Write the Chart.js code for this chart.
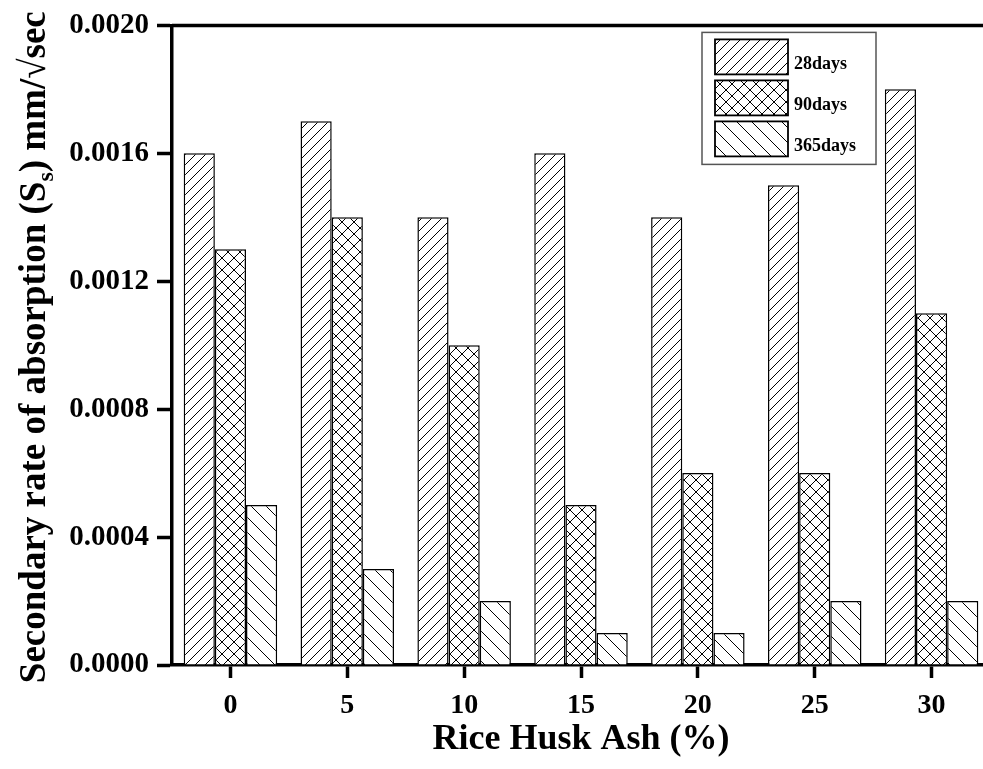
<!DOCTYPE html>
<html lang="en">
<head>
    <meta charset="UTF-8">
    <title>Secondary rate of absorption</title>
    <script src="https://cdn.jsdelivr.net/npm/chart.js"></script>
    <style>
        html, body { margin: 0; padding: 0; background: #fff; overflow: hidden; }
        #wrap { width: 1000px; height: 769px; }
    </style>
</head>
<body>
    <div id="wrap"><canvas id="absChart"></canvas></div>
    <script>
        // Rice husk ash content (%) and secondary absorption rate (mm/√sec)
        const categories = ['0', '5', '10', '15', '20', '25', '30'];
        const days28 = [0.0016, 0.0017, 0.0014, 0.0016, 0.0014, 0.0015, 0.0018];
        const days90 = [0.0013, 0.0014, 0.0010, 0.0005, 0.0006, 0.0006, 0.0011];
        const days365 = [0.0005, 0.0003, 0.0002, 0.0001, 0.0001, 0.0002, 0.0002];
        const yTicks = [0, 0.0004, 0.0008, 0.0012, 0.0016, 0.0020];
        const seriesNames = ['28days', '90days', '365days'];

        const FONT = '"Liberation Serif", "Times New Roman", serif';

        // small repeating tiles for the hatch fills
        function hatch(kind, size) {
            const c = document.createElement('canvas');
            c.width = c.height = size;
            const g = c.getContext('2d');
            g.fillStyle = '#fff';
            g.fillRect(0, 0, size, size);
            g.strokeStyle = '#000';
            g.lineWidth = 1;
            g.beginPath();
            for (const k of [-size, 0, size]) {
                if (kind === '/' || kind === 'x') {
                    g.moveTo(k, size);
                    g.lineTo(k + size, 0);
                }
                if (kind === '\\' || kind === 'x') {
                    g.moveTo(k, 0);
                    g.lineTo(k + size, size);
                }
            }
            g.stroke();
            return g.createPattern(c, 'repeat');
        }

        const fills = [hatch('/', 10), hatch('x', 12), hatch('\\', 15)];

        // axis titles (the y one has a subscript) and the legend
        const decorations = {
            id: 'decorations',
            afterDraw(chart) {
                const ctx = chart.ctx;
                const a = chart.chartArea;
                ctx.save();

                // frame top and right
                ctx.strokeStyle = '#000';
                ctx.lineWidth = 3.5;
                ctx.beginPath();
                ctx.moveTo(a.left, a.top);
                ctx.lineTo(a.right, a.top);
                ctx.lineTo(a.right, a.bottom);
                ctx.stroke();

                // x title
                ctx.fillStyle = '#000';
                ctx.font = 'bold 36px ' + FONT;
                ctx.textAlign = 'center';
                ctx.textBaseline = 'alphabetic';
                ctx.fillText('Rice Husk Ash (%)', (a.left + a.right) / 2, 749);

                // y title, rotated
                const parts = [
                    ['Secondary rate of absorption (S', 37, 0],
                    ['s', 24, 8],
                    [') mm/\u221Asec', 37, 0]
                ];
                let total = 0;
                for (const p of parts) {
                    ctx.font = 'bold ' + p[1] + 'px ' + FONT;
                    total += ctx.measureText(p[0]).width;
                }
                ctx.translate(45, (a.top + a.bottom) / 2 + 2);
                ctx.rotate(-Math.PI / 2);
                ctx.textAlign = 'left';
                let x = -total / 2;
                for (const p of parts) {
                    ctx.font = 'bold ' + p[1] + 'px ' + FONT;
                    ctx.fillText(p[0], x, p[2]);
                    x += ctx.measureText(p[0]).width;
                }
                ctx.setTransform(1, 0, 0, 1, 0, 0);

                // legend
                const lx = a.left + 530, ly = a.top + 7;
                ctx.strokeStyle = '#555';
                ctx.lineWidth = 1.5;
                ctx.strokeRect(lx, ly, 174, 132);
                ctx.font = 'bold 18px ' + FONT;
                ctx.textAlign = 'left';
                const rows = [7, 48, 89];
                seriesNames.forEach((name, i) => {
                    const sy = ly + rows[i];
                    ctx.fillStyle = fills[i];
                    ctx.fillRect(lx + 13, sy, 73, 35);
                    ctx.strokeStyle = '#000';
                    ctx.lineWidth = 1.8;
                    ctx.strokeRect(lx + 13, sy, 73, 35);
                    ctx.fillStyle = '#000';
                    ctx.fillText(name, lx + 92, sy + 30);
                });
                ctx.restore();
            }
        };

        const ctx = document.getElementById('absChart').getContext('2d');
        new Chart(ctx, {
            type: 'bar',
            data: {
                labels: categories,
                datasets: [days28, days90, days365].map((vals, i) => ({
                    label: seriesNames[i],
                    data: vals,
                    backgroundColor: fills[i],
                    borderColor: '#000',
                    borderWidth: 1.5,
                    barPercentage: 1.0,
                    categoryPercentage: 0.8
                }))
            },
            options: {
                responsive: true,
                maintainAspectRatio: false,
                animation: false,
                layout: { padding: { top: 21, right: 10, left: 0, bottom: 0 } },
                plugins: {
                    legend: { display: false },
                    tooltip: { enabled: false }
                },
                scales: {
                    x: {
                        afterFit(scale) { scale.height = 104; },
                        grid: {
                            offset: false,
                            drawOnChartArea: false,
                            tickLength: 13,
                            tickWidth: 3.5,
                            tickColor: '#000'
                        },
                        border: { display: true, color: '#000', width: 3.5 },
                        ticks: {
                            color: '#000',
                            padding: 11,
                            maxRotation: 0,
                            font: { family: FONT, size: 28, weight: 'bold' }
                        }
                    },
                    y: {
                        min: 0,
                        max: 0.002,
                        afterFit(scale) { scale.width = 172; },
                        afterBuildTicks(scale) {
                            scale.ticks = yTicks.map(v => ({ value: v }));
                        },
                        grid: {
                            drawOnChartArea: false,
                            tickLength: 15,
                            tickWidth: 3.5,
                            tickColor: '#000'
                        },
                        border: { display: true, color: '#000', width: 3.5 },
                        ticks: {
                            color: '#000',
                            padding: 8,
                            font: { family: FONT, size: 29, weight: 'bold' },
                            callback: v => v.toFixed(4)
                        }
                    }
                }
            },
            plugins: [decorations]
        });
    </script>
</body>
</html>
